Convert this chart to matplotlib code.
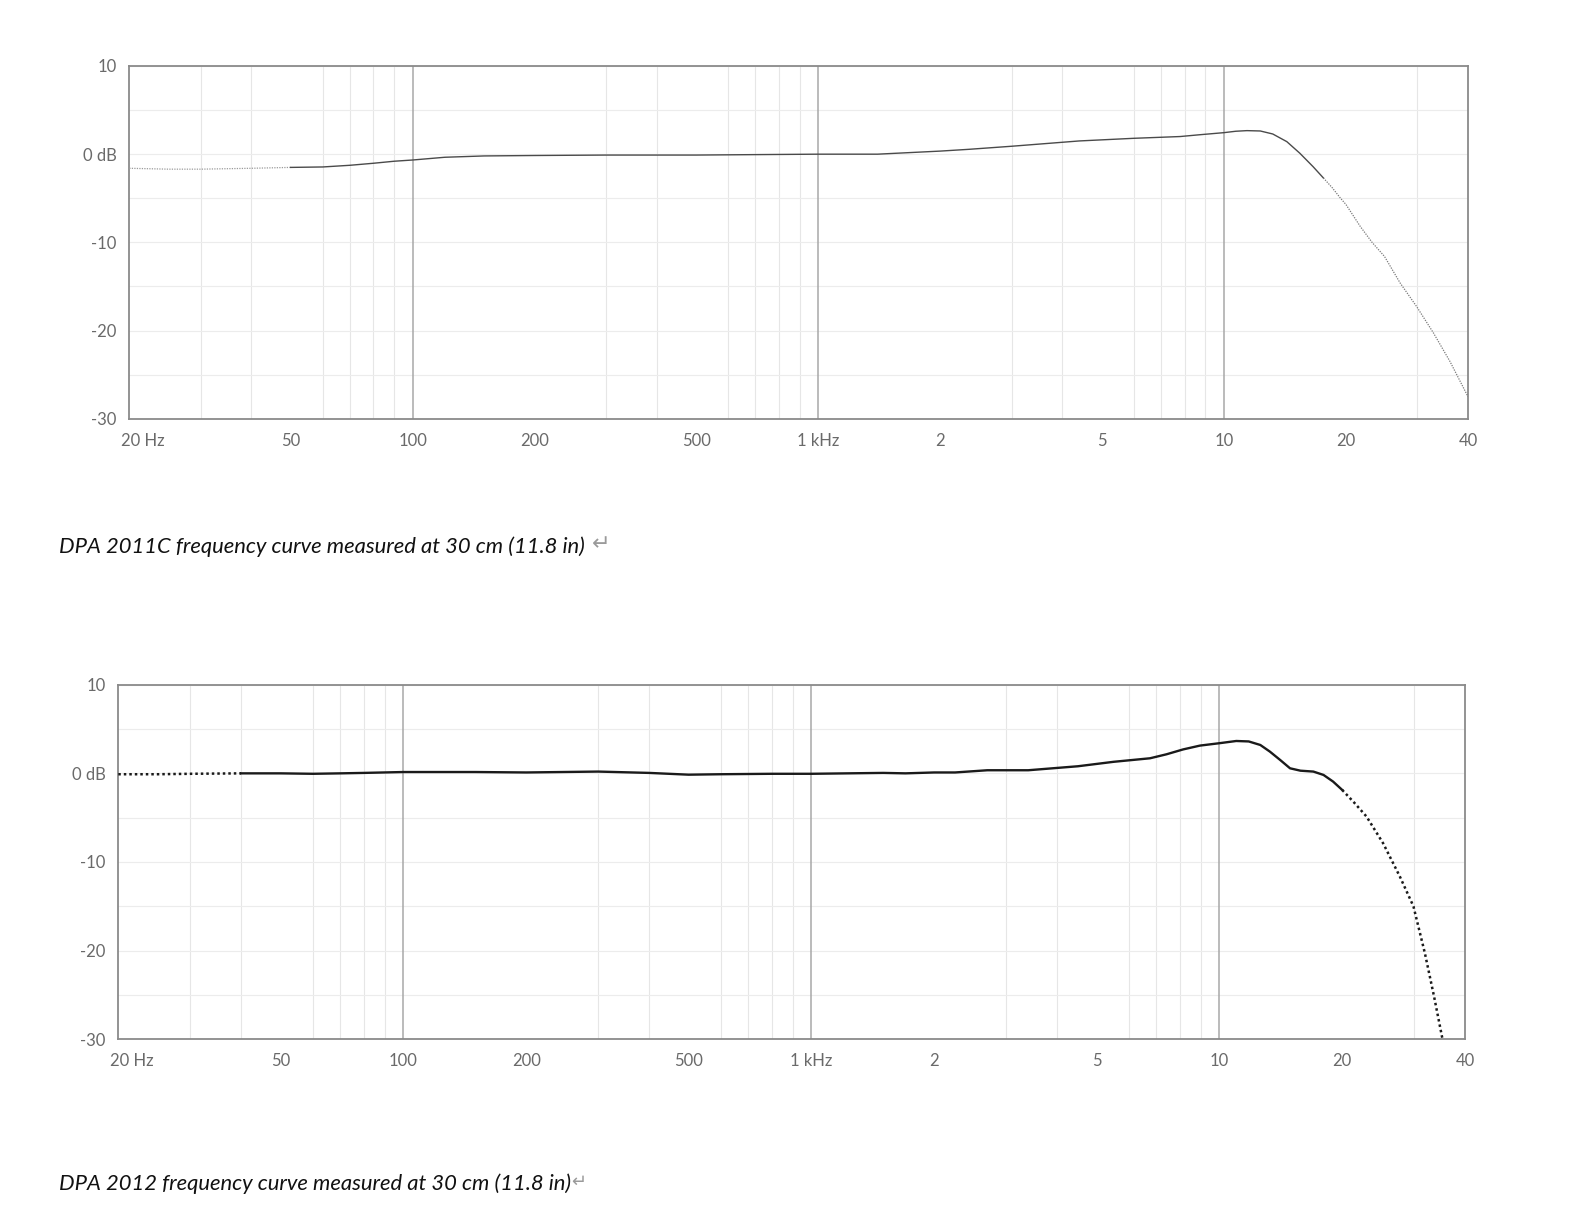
# Frequency response curves of two DPA microphones, redrawn as two log-frequency panels.
import matplotlib
matplotlib.use('Agg')
import matplotlib.pyplot as plt
from matplotlib.transforms import ScaledTranslation

plt.rcParams['font.family'] = ['Lato', 'DejaVu Sans']

# axis ticks
tick_freqs  = [20, 50, 100, 200, 500, 1000, 2000, 5000, 10000, 20000, 40000]
tick_labels = ['20 Hz', '50', '100', '200', '500', '1 kHz', '2', '5', '10', '20', '40']
db_ticks    = [-30, -20, -10, 0, 10]
db_labels   = ['-30', '-20', '-10', '0 dB', '10']
db_minor    = [-25, -15, -5, 5]
decade_lines = [100, 1000, 10000]
minor_freqs = [m * d for d in [10, 100, 1000] for m in range(2, 10)] + [20000, 30000]
minor_freqs = [f for f in minor_freqs if f > 20]

# DPA 2011C (top)
f_2011_low  = [20, 25, 30, 40, 50]
db_2011_low = [-1.6, -1.7, -1.7, -1.6, -1.5]
f_2011      = [50, 60, 70, 80, 90, 100, 120, 150, 200, 300, 500, 700, 1000, 1400,
               2000, 2350, 3000, 4400, 6000, 7800, 8700, 10000, 10700, 11400,
               12300, 13200, 14300, 15400, 16600, 17600]
db_2011     = [-1.5, -1.45, -1.26, -1.03, -0.8, -0.66, -0.35, -0.2, -0.15, -0.1,
               -0.1, -0.05, 0.0, 0.0, 0.35, 0.55, 0.9, 1.5, 1.8, 2.0, 2.2, 2.44,
               2.6, 2.67, 2.63, 2.29, 1.42, 0.1, -1.42, -2.7]
f_2011_hi   = [17600, 18500, 19400, 20000, 21700, 23200, 24900, 27200, 29900,
               32900, 36100, 40000]
db_2011_hi  = [-2.7, -3.8, -5.0, -5.7, -8.2, -10.0, -11.6, -14.6, -17.3,
               -20.3, -23.5, -27.5]

# DPA 2012 (bottom)
f_2012_low  = [20, 25, 30, 40]
db_2012_low = [-0.1, -0.1, -0.05, 0.0]
f_2012      = [40, 50, 60, 70, 80, 100, 150, 200, 300, 400, 500, 600, 800, 1000,
               1500, 1700, 2000, 2250, 2700, 3400, 4500, 5500, 6760, 7420, 8150,
               8960, 10000, 11000, 11800, 12600, 13300, 14100, 14900, 15800,
               17000, 18000, 19000, 20000]
db_2012     = [0.0, 0.0, -0.05, 0.0, 0.05, 0.15, 0.15, 0.1, 0.2, 0.05, -0.15, -0.1,
               -0.05, -0.05, 0.05, 0.0, 0.1, 0.1, 0.35, 0.35, 0.8, 1.3, 1.7, 2.15,
               2.7, 3.13, 3.4, 3.65, 3.6, 3.2, 2.45, 1.5, 0.57, 0.3, 0.2, -0.18,
               -0.93, -1.87]
f_2012_hi   = [20000, 21400, 22950, 25200, 27700, 29900, 31900, 33600, 35200]
db_2012_hi  = [-1.87, -3.3, -4.88, -7.89, -11.65, -15.0, -20.3, -25.2, -29.9]

captions = ['DPA 2011C frequency curve measured at 30 cm (11.8 in)',
            'DPA 2012 frequency curve measured at 30 cm (11.8 in)']

W, H = 1573, 1212
fig = plt.figure(figsize=(W / 100, H / 100), dpi=100)
ax1 = fig.add_axes([129.3 / W, 1 - 418.7 / H, (1468 - 129.3) / W, (418.7 - 66) / H])
ax2 = fig.add_axes([118.3 / W, 1 - 1039.3 / H, (1465 - 118.3) / W, (1039.3 - 684.7) / H])


def style(ax):
   ax.set_xscale('log')
   ax.set_xticks(tick_freqs, tick_labels)
   ax.set_xticks(minor_freqs, minor=True)
   ax.set_yticks(db_ticks, db_labels)
   ax.set_yticks(db_minor, minor=True)
   ax.set_xlim(20, 40000)
   ax.set_ylim(-30, 10)
   ax.tick_params(which='both', length=0, labelsize=12, labelcolor='#6a6a6a')
   ax.tick_params(axis='x', pad=10)
   ax.tick_params(axis='y', pad=9)
   ax.grid(True, axis='x', which='minor', color='#e6e6e6', lw=0.8)
   ax.grid(True, axis='y', which='both', color='#ececec', lw=0.8)
   for f in decade_lines:
      ax.axvline(f, color='#a8a8a8', lw=1.1, zorder=1)
   for sp in ax.spines.values():
      sp.set_color('#8a8a8a')
      sp.set_linewidth(1.3)
   ax.set_axisbelow(True)
   lab = ax.get_xticklabels()[0]
   lab.set_ha('left')
   lab.set_transform(lab.get_transform() + ScaledTranslation(-6 / 72, 0, fig.dpi_scale_trans))


style(ax1)
style(ax2)

ax1.plot(f_2011_low, db_2011_low, color='#9a9a9a', lw=0.9, ls=(0, (1, 1)), zorder=3)
ax1.plot(f_2011, db_2011, color='#4a4a4a', lw=1.0, zorder=3)
ax1.plot(f_2011_hi, db_2011_hi, color='#7a7a7a', lw=0.9, ls=(0, (1, 1)), zorder=3)

ax2.plot(f_2012_low, db_2012_low, color='#1a1a1a', lw=1.8, ls=(0, (1, 1.2)), zorder=3)
ax2.plot(f_2012, db_2012, color='#1a1a1a', lw=1.7, zorder=3)
ax2.plot(f_2012_hi, db_2012_hi, color='#1a1a1a', lw=1.8, ls=(0, (1, 1.2)), zorder=3)

cap1 = fig.text(59 / W, 1 - 553 / H, captions[0], fontsize=15.8, style='italic',
                color='#111111', va='baseline')
cap2 = fig.text(59 / W, 1 - 1190 / H, captions[1], fontsize=15.8, style='italic',
                color='#111111', va='baseline')
ax1.annotate('\u21b5', xy=(1, 0), xycoords=cap1, xytext=(5, 2), textcoords='offset points',
             fontsize=16, color='#9a9a9a', va='bottom', family='DejaVu Sans', annotation_clip=False)
ax2.annotate('\u21b5', xy=(1, 0), xycoords=cap2, xytext=(0, 2), textcoords='offset points',
             fontsize=13, color='#9a9a9a', va='bottom', family='DejaVu Sans', annotation_clip=False)

plt.savefig('out.png', dpi=100)
